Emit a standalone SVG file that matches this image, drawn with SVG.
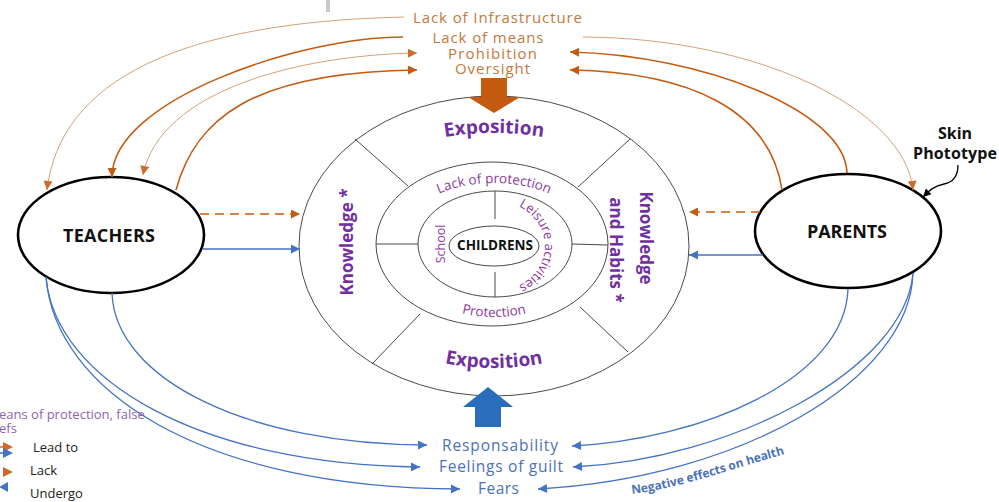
<svg xmlns="http://www.w3.org/2000/svg" width="999" height="502" viewBox="0 0 999 502">
<style>
  text { font-family: "Open Sans", Lato, "Liberation Sans", sans-serif; }
  .ring { fill: none; stroke: #4a4a4a; stroke-width: 1; }
  .div { stroke: #4a4a4a; stroke-width: 1; }
  .actor { fill: #fff; stroke: #000; stroke-width: 2.6; }
  .actorTxt { font-weight: 700; font-size: 18px; fill: #111; text-anchor: middle; }
  .top { font-size: 15px; fill: #C4793C; text-anchor: middle; }
  .bot { font-size: 15.5px; fill: #4A72B8; text-anchor: middle; }
  .expo { font-weight: 700; font-size: 19px; fill: #7030A0; }
  .know { font-weight: 700; font-size: 17px; fill: #7030A0; text-anchor: middle; }
  .inner { font-size: 13px; fill: #8B3A9E; }
  .od { fill: none; stroke: #C55A11; stroke-width: 1.6; }
  .ol { fill: none; stroke: #D6A07A; stroke-width: 1; }
  .bl { fill: none; stroke: #4472C4; stroke-width: 1.3; }
  .dash { stroke-dasharray: 9 6; }
  .leg { font-size: 13px; fill: #222; }
</style>
<defs>
  <marker id="mOD" viewBox="0 0 10 10" refX="10" refY="5" markerWidth="11" markerHeight="9" markerUnits="userSpaceOnUse" orient="auto-start-reverse">
    <path d="M0,0 L10,5 L0,10 z" fill="#C55A11"/>
  </marker>
  <marker id="mOL" viewBox="0 0 10 10" refX="10" refY="5" markerWidth="11" markerHeight="9" markerUnits="userSpaceOnUse" orient="auto-start-reverse">
    <path d="M0,0 L10,5 L0,10 z" fill="#CF6A2A"/>
  </marker>
  <marker id="mB" viewBox="0 0 10 10" refX="10" refY="5" markerWidth="11" markerHeight="9" markerUnits="userSpaceOnUse" orient="auto">
    <path d="M0,0 L10,5 L0,10 z" fill="#4472C4"/>
  </marker>
  <marker id="mK" viewBox="0 0 10 10" refX="10" refY="5" markerWidth="10" markerHeight="8" markerUnits="userSpaceOnUse" orient="auto">
    <path d="M0,0 L10,5 L0,10 z" fill="#000"/>
  </marker>
  <path id="arcTop" d="M304,248 A190,115 0 0 1 684,248"/>
  <path id="arcBot" d="M319,248 A175,120 0 0 0 669,248"/>
  <path id="arcLack" d="M395,246 A99,63 0 0 1 593,246"/>
  <path id="arcProt" d="M394,246 A100,71 0 0 0 594,246"/>
  <path id="arcLeis" d="M495,201 A50,45 0 0 1 495,291"/>
  <path id="pathNeg" d="M632,494 C680,488 735,468 795,451"/>
</defs>

<rect width="999" height="502" fill="#fff"/>
<rect x="326" y="0" width="4" height="12" fill="#c8c8c8"/>

<!-- Central target -->
<g id="exposition-ring">
  <ellipse class="ring" cx="494" cy="246" rx="195" ry="150"/>
  <line class="div" x1="355" y1="139" x2="408" y2="186"/>
  <line class="div" x1="630" y1="139" x2="578" y2="187"/>
  <line class="div" x1="372" y1="364" x2="420" y2="314"/>
  <line class="div" x1="628" y1="352" x2="580" y2="307"/>
  <text class="expo"><textPath href="#arcTop" startOffset="50%" text-anchor="middle">Exposition</textPath></text>
  <text class="expo"><textPath href="#arcBot" startOffset="50%" text-anchor="middle">Exposition</textPath></text>
  <text class="know" transform="translate(353,242) rotate(-90)">Knowledge *</text>
  <text class="know" transform="translate(640,238) rotate(90)">Knowledge</text>
  <text class="know" transform="translate(610,250) rotate(90)">and Habits *</text>
</g>
<g id="protection-ring">
  <ellipse class="ring" cx="492" cy="244" rx="116" ry="82"/>
  <line class="div" x1="376" y1="244" x2="418" y2="244"/>
  <line class="div" x1="572" y1="244" x2="608" y2="245"/>
  <text class="inner" style="font-size:13.5px"><textPath href="#arcLack" startOffset="50%" text-anchor="middle">Lack of protection</textPath></text>
  <text class="inner" style="font-size:13.5px"><textPath href="#arcProt" startOffset="50%" text-anchor="middle">Protection</textPath></text>
</g>
<g id="activities-ring">
  <ellipse class="ring" cx="495" cy="244" rx="77" ry="53"/>
  <line class="div" x1="495" y1="191" x2="495" y2="219"/>
  <line class="div" x1="495" y1="272" x2="495" y2="297"/>
  <text class="inner" style="font-size:12.5px" text-anchor="middle" transform="translate(445,244) rotate(-90)">School</text>
  <text class="inner"><textPath href="#arcLeis" startOffset="50%" text-anchor="middle">Leisure activities</textPath></text>
</g>
<g id="childrens">
  <ellipse class="ring" cx="494" cy="246" rx="45" ry="20"/>
  <text class="actorTxt" x="495" y="250" style="font-size:13.5px">CHILDRENS</text>
</g>

<!-- Actors -->
<g id="teachers">
  <ellipse class="actor" cx="111" cy="235" rx="93" ry="58"/>
  <text class="actorTxt" x="109" y="242" textLength="92">TEACHERS</text>
</g>
<g id="parents">
  <ellipse class="actor" cx="848" cy="231" rx="93" ry="57"/>
  <text class="actorTxt" x="847" y="238" textLength="80">PARENTS</text>
</g>

<!-- Top factors -->
<g id="factors">
  <text class="top" x="497.5" y="23" textLength="169">Lack of Infrastructure</text>
  <text class="top" x="488" y="43" textLength="111">Lack of means</text>
  <text class="top" x="492.5" y="59" textLength="89">Prohibition</text>
  <text class="top" x="492.5" y="74" textLength="75">Oversight</text>
  <polygon points="481,78 507,78 507,97 520,97 494,113 468,97 481,97" fill="#C55A11"/>
</g>

<!-- Bottom outcomes -->
<g id="outcomes">
  <polygon points="488,387 513,407 501,407 501,427 475,427 475,407 463,407" fill="#2A6EBB"/>
  <text class="bot" x="500" y="451" textLength="116">Responsability</text>
  <text class="bot" x="501" y="472" textLength="124">Feelings of guilt</text>
  <text class="bot" x="498.5" y="494" textLength="41">Fears</text>
  <text style="font-size:12px;font-weight:700;fill:#4A72B8"><textPath href="#pathNeg">Negative effects on health</textPath></text>
</g>

<g id="skin-phototype">
  <text x="955" y="139" style="font-size:16px;font-weight:700;fill:#111" text-anchor="middle">Skin</text>
  <text x="955" y="159" style="font-size:16px;font-weight:700;fill:#111" text-anchor="middle" textLength="84">Phototype</text>
</g>

<!-- Connectors -->
<g id="connectors">
  <!-- top left -->
  <path class="ol" d="M404,17 C180,22 60,80 47,190" marker-end="url(#mOL)"/>
  <path class="od" d="M403,37 C300,37 112,100 112,177" marker-end="url(#mOD)"/>
  <path class="ol" d="M143,175 C160,90 300,55 417,53" marker-start="url(#mOL)" marker-end="url(#mOL)"/>
  <path class="od" d="M176,190 C195,120 250,72 417,70" marker-end="url(#mOD)"/>
  <!-- top right -->
  <path class="ol" d="M583,37 C760,38 905,110 913,190" marker-end="url(#mOL)"/>
  <path class="od" d="M847,173 C845,110 700,55 570,52" marker-end="url(#mOD)"/>
  <path class="od" d="M782,190 C770,110 690,72 570,70" marker-end="url(#mOD)"/>
  <!-- horizontal -->
  <path class="od dash" d="M200,214 L300,214" marker-end="url(#mOD)"/>
  <path class="bl" d="M203,249 L300,249" marker-end="url(#mB)"/>
  <path class="od dash" d="M760,212 L689,212" marker-end="url(#mOD)"/>
  <path class="bl" d="M763,255 L689,255" marker-end="url(#mB)"/>
  <!-- bottom left -->
  <path class="bl" d="M112,293 C115,380 250,445 427,445" marker-end="url(#mB)"/>
  <path class="bl" d="M46,277 C55,380 200,465 420,467" marker-end="url(#mB)"/>
  <path class="bl" d="M46,277 C55,390 200,488 460,489" marker-end="url(#mB)"/>
  <!-- bottom right -->
  <path class="bl" d="M848,289 C845,380 700,440 572,446" marker-end="url(#mB)"/>
  <path class="bl" d="M913,273 C905,370 730,460 573,467" marker-end="url(#mB)"/>
  <path class="bl" d="M913,273 C910,380 740,478 538,489" marker-end="url(#mB)"/>
  <!-- skin phototype -->
  <path d="M958,165 C958,176 954,182 944,184 C934,186 930,190 923,197" fill="none" stroke="#000" stroke-width="1.3" marker-end="url(#mK)"/>
</g>

<!-- Legend -->
<g id="legend">
  <text x="-1" y="419" style="font-size:13px;fill:#8E63B0">eans of protection, false</text>
  <text x="-1" y="433" style="font-size:13px;fill:#8E63B0">efs</text>
  <line x1="-2" y1="447" x2="6" y2="447" stroke="#CF6A2A" stroke-width="1.5"/>
  <polygon points="3,442 13,447 3,452" fill="#CF6A2A"/>
  <line x1="-2" y1="453" x2="6" y2="453" stroke="#4472C4" stroke-width="1.5"/>
  <polygon points="3,448 13,453 3,458" fill="#4472C4"/>
  <text class="leg" x="33" y="452">Lead to</text>
  <polygon points="3,467 13,472 3,477" fill="#CF6A2A"/>
  <text class="leg" x="30" y="475">Lack</text>
  <polygon points="-1,487 8,482 8,492" fill="#4472C4"/>
  <text class="leg" x="30" y="498">Undergo</text>
</g>
</svg>
